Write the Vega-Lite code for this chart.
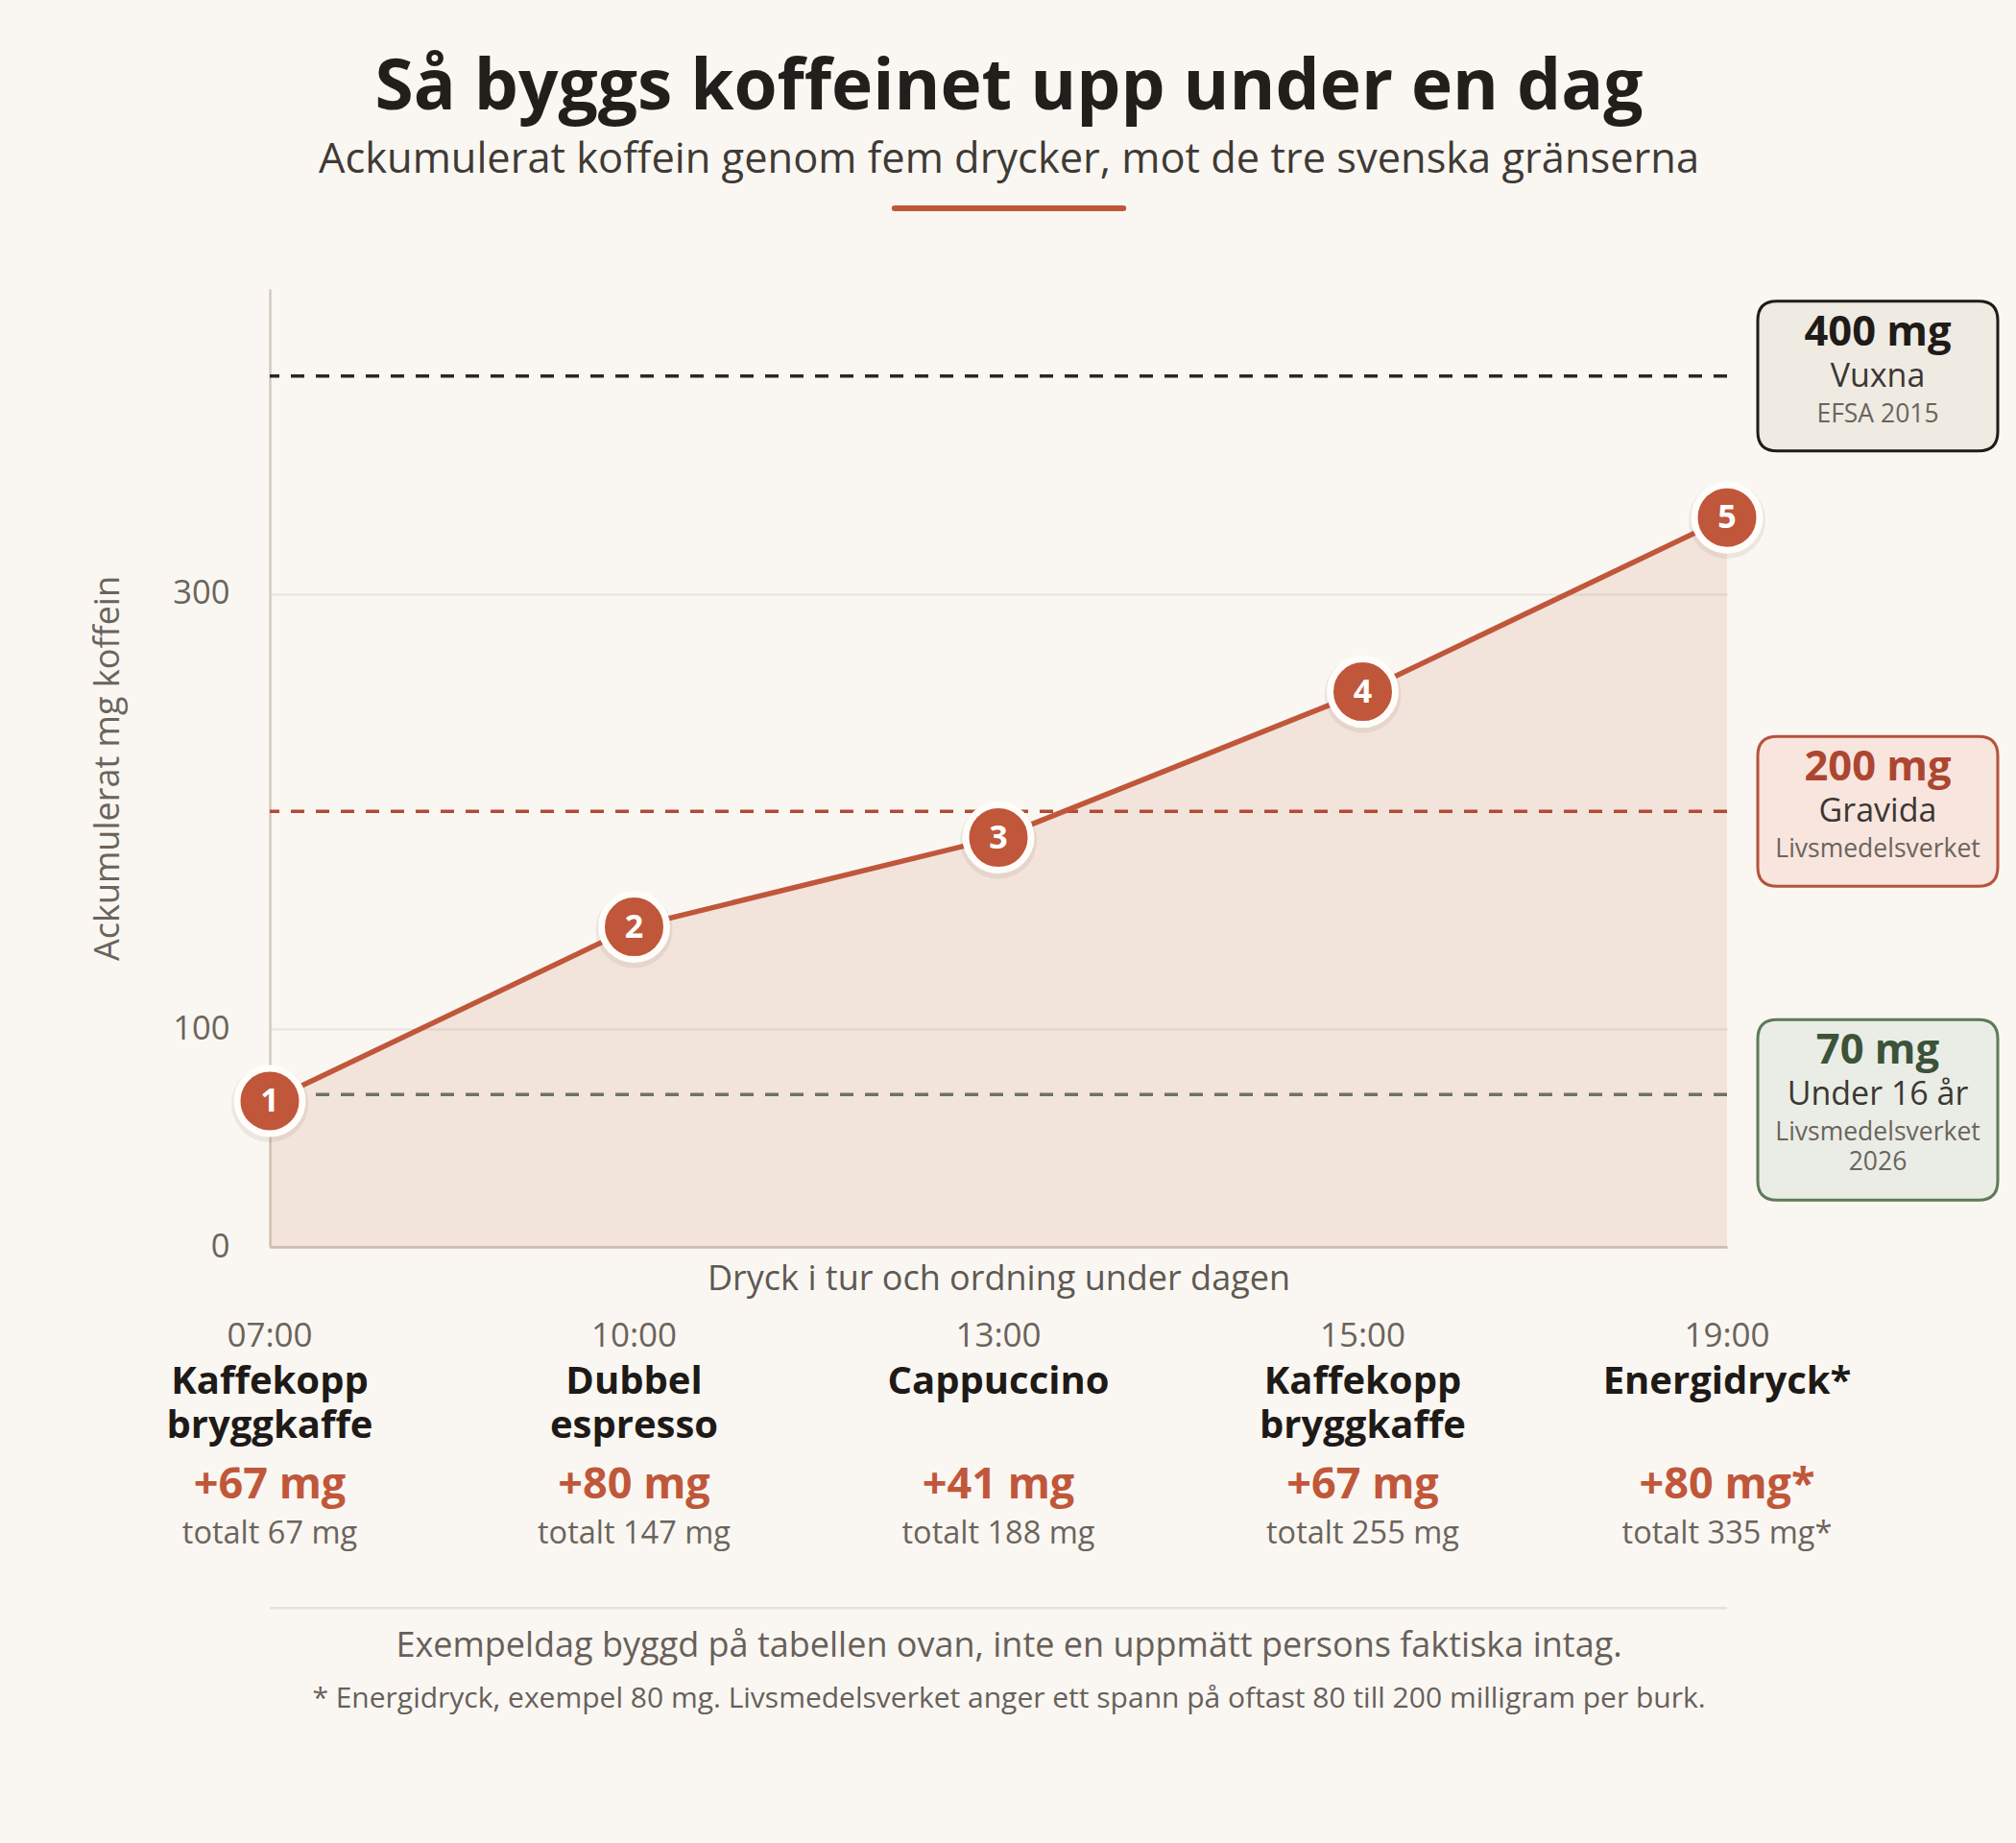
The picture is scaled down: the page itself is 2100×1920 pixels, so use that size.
{
  "$schema": "https://vega.github.io/schema/vega-lite/v6.json",
  "background": "#faf7f2",
  "padding": {"left": 94, "top": 55, "right": 20, "bottom": 170},
  "config": {"font": "Open Sans", "view": {"stroke": null}},
  "title": {
    "text": "Så byggs koffeinet upp under en dag",
    "subtitle": "Ackumulerat koffein genom fem drycker, mot de tre svenska gränserna",
    "anchor": "middle",
    "frame": "group",
    "dx": 11,
    "fontSize": 73,
    "fontWeight": "bold",
    "color": "#221e1b",
    "subtitleFontSize": 43.4,
    "subtitleColor": "#3f3a35",
    "subtitlePadding": 17,
    "offset": 26
  },
  "datasets": {
    "drycker": [
      {"nr": 1, "tid": "07:00", "namn": "Kaffekopp\nbryggkaffe", "tillskott": "+67 mg", "total": "totalt 67 mg", "mg": 67, "ackumulerat": 67},
      {"nr": 2, "tid": "10:00", "namn": "Dubbel\nespresso", "tillskott": "+80 mg", "total": "totalt 147 mg", "mg": 80, "ackumulerat": 147},
      {"nr": 3, "tid": "13:00", "namn": "Cappuccino", "tillskott": "+41 mg", "total": "totalt 188 mg", "mg": 41, "ackumulerat": 188},
      {"nr": 4, "tid": "15:00", "namn": "Kaffekopp\nbryggkaffe", "tillskott": "+67 mg", "total": "totalt 255 mg", "mg": 67, "ackumulerat": 255},
      {"nr": 5, "tid": "19:00", "namn": "Energidryck*", "tillskott": "+80 mg*", "total": "totalt 335 mg*", "mg": 80, "ackumulerat": 335}
    ],
    "granser": [
      {"mg": 400, "etikett": "400 mg", "grupp": "Vuxna", "kalla": "EFSA 2015", "kalla2": ""},
      {"mg": 200, "etikett": "200 mg", "grupp": "Gravida", "kalla": "Livsmedelsverket", "kalla2": ""},
      {"mg": 70, "etikett": "70 mg", "grupp": "Under 16 år", "kalla": "Livsmedelsverket", "kalla2": "2026"}
    ],
    "fotnot": [
      {"rad": "fot1", "text": "Exempeldag byggd på tabellen ovan, inte en uppmätt persons faktiska intag."},
      {"rad": "fot2", "text": "* Energidryck, exempel 80 mg. Livsmedelsverket anger ett spann på oftast 80 till 200 milligram per burk."}
    ]
  },
  "bounds": "flush",
  "spacing": 93,
  "vconcat": [
    {
      "width": 1518,
      "height": 998,
      "resolve": {"scale": {"color": "independent", "fill": "independent", "stroke": "independent", "shape": "independent"}},
      "layer": [
        {
          "data": {"name": "drycker"},
          "mark": {"type": "area", "color": "#c0573a", "opacity": 0.12},
          "encoding": {
            "x": {"field": "nr", "type": "quantitative", "scale": {"domain": [1, 5], "nice": false, "zero": false},
              "axis": {"title": "Dryck i tur och ordning under dagen", "labels": false, "ticks": false, "grid": false, "domain": true, "domainColor": "#cdbdb2", "domainWidth": 2.5, "titleFontSize": 36, "titleFontWeight": "normal", "titleColor": "#5f5952", "titlePadding": 16}},
            "y": {"field": "ackumulerat", "type": "quantitative", "scale": {"domain": [0, 440], "nice": false},
              "axis": {"title": "Ackumulerat mg koffein", "values": [0, 100, 300], "grid": true, "gridColor": "#e8e3dc", "gridWidth": 2, "ticks": false, "domainColor": "#d3cabf", "domainWidth": 2.5, "labelFontSize": 34.5, "labelColor": "#6b645c", "labelPadding": 42, "titleFontSize": 36, "titleFontWeight": "normal", "titleColor": "#6b645c", "titlePadding": 48}}
          }
        },
        {
          "data": {"name": "granser"},
          "mark": {"type": "rule", "strokeDash": [14, 12], "strokeWidth": 3.5},
          "encoding": {
            "y": {"field": "mg", "type": "quantitative"},
            "stroke": {"field": "grupp", "type": "nominal", "scale": {"domain": ["Vuxna", "Gravida", "Under 16 år"], "range": ["#2b2724", "#b14b36", "#6c7363"]}, "legend": null}
          }
        },
        {
          "data": {"values": [{}]},
          "mark": {"type": "rule", "color": "#c0573a", "strokeWidth": 6, "strokeCap": "round"},
          "encoding": {"x": {"datum": 2.715}, "x2": {"datum": 3.343}, "y": {"datum": 477}}
        },
        {
          "data": {"name": "drycker"},
          "mark": {"type": "line", "color": "#c0573a", "strokeWidth": 5.5},
          "encoding": {"x": {"field": "nr", "type": "quantitative"}, "y": {"field": "ackumulerat", "type": "quantitative"}}
        },
        {
          "data": {"name": "drycker"},
          "mark": {"type": "point", "filled": true, "shape": "circle", "size": 6400, "color": "#7a5a4a", "opacity": 0.1, "yOffset": 3},
          "encoding": {"x": {"field": "nr", "type": "quantitative"}, "y": {"field": "ackumulerat", "type": "quantitative"}}
        },
        {
          "data": {"name": "drycker"},
          "mark": {"type": "point", "filled": true, "shape": "circle", "size": 4624, "fill": "#c0573a", "stroke": "#fffdf9", "strokeWidth": 7, "opacity": 1},
          "encoding": {"x": {"field": "nr", "type": "quantitative"}, "y": {"field": "ackumulerat", "type": "quantitative"}}
        },
        {
          "data": {"name": "drycker"},
          "mark": {"type": "text", "fontSize": 34, "fontWeight": "bold", "color": "#ffffff", "baseline": "middle", "align": "center", "dy": 1},
          "encoding": {"x": {"field": "nr", "type": "quantitative"}, "y": {"field": "ackumulerat", "type": "quantitative"}, "text": {"field": "nr"}}
        },
        {
          "data": {"name": "granser"},
          "mark": {"type": "point", "filled": true, "size": 62500, "strokeWidth": 3, "xOffset": 157, "opacity": 1},
          "encoding": {
            "x": {"value": "width"},
            "y": {"field": "mg", "type": "quantitative"},
            "shape": {"field": "grupp", "type": "nominal", "scale": {"domain": ["Vuxna", "Gravida", "Under 16 år"], "range": [
              "M-0.84,-0.624L0.84,-0.624Q1,-0.624 1,-0.464L1,0.464Q1,0.624 0.84,0.624L-0.84,0.624Q-1,0.624 -1,0.464L-1,-0.464Q-1,-0.624 -0.84,-0.624Z",
              "M-0.84,-0.624L0.84,-0.624Q1,-0.624 1,-0.464L1,0.464Q1,0.624 0.84,0.624L-0.84,0.624Q-1,0.624 -1,0.464L-1,-0.464Q-1,-0.624 -0.84,-0.624Z",
              "M-0.84,-0.624L0.84,-0.624Q1,-0.624 1,-0.464L1,0.72Q1,0.88 0.84,0.88L-0.84,0.88Q-1,0.88 -1,0.72L-1,-0.464Q-1,-0.624 -0.84,-0.624Z"]}, "legend": null},
            "fill": {"field": "grupp", "type": "nominal", "scale": {"domain": ["Vuxna", "Gravida", "Under 16 år"], "range": ["#efebe3", "#f8e5de", "#eaede6"]}, "legend": null},
            "stroke": {"field": "grupp", "type": "nominal", "scale": {"domain": ["Vuxna", "Gravida", "Under 16 år"], "range": ["#1f1b18", "#b5533b", "#5e7a58"]}, "legend": null}
          }
        },
        {
          "data": {"name": "granser"},
          "mark": {"type": "text", "fontSize": 43.5, "fontWeight": "bold", "baseline": "middle", "align": "center", "dx": 157, "dy": -45},
          "encoding": {
            "x": {"value": "width"},
            "y": {"field": "mg", "type": "quantitative"},
            "text": {"field": "etikett"},
            "color": {"field": "grupp", "type": "nominal", "scale": {"domain": ["Vuxna", "Gravida", "Under 16 år"], "range": ["#1f1b18", "#ad4631", "#3c5239"]}, "legend": null}
          }
        },
        {
          "data": {"name": "granser"},
          "mark": {"type": "text", "fontSize": 34, "baseline": "middle", "align": "center", "dx": 157, "dy": 1, "color": "#3b3733"},
          "encoding": {"x": {"value": "width"}, "y": {"field": "mg", "type": "quantitative"}, "text": {"field": "grupp"}}
        },
        {
          "data": {"name": "granser"},
          "mark": {"type": "text", "fontSize": 26.5, "baseline": "middle", "align": "center", "dx": 157, "dy": 40, "color": "#6b645c"},
          "encoding": {"x": {"value": "width"}, "y": {"field": "mg", "type": "quantitative"}, "text": {"field": "kalla"}}
        },
        {
          "data": {"name": "granser"},
          "mark": {"type": "text", "fontSize": 26.5, "baseline": "middle", "align": "center", "dx": 157, "dy": 71, "color": "#6b645c"},
          "encoding": {"x": {"value": "width"}, "y": {"field": "mg", "type": "quantitative"}, "text": {"field": "kalla2"}}
        }
      ]
    },
    {
      "width": 1518,
      "height": 377,
      "layer": [
        {
          "data": {"name": "drycker"},
          "mark": {"type": "text", "fontSize": 35, "color": "#6b645c", "baseline": "middle", "align": "center"},
          "encoding": {
            "x": {"field": "nr", "type": "quantitative", "scale": {"domain": [1, 5], "nice": false, "zero": false}, "axis": null},
            "y": {"datum": "tid", "type": "nominal", "scale": {"type": "point", "domain": ["tid", "namn", "plus", "total", "linje", "fot1", "fot2"], "padding": 0}, "axis": null},
            "text": {"field": "tid"}
          }
        },
        {
          "data": {"name": "drycker"},
          "mark": {"type": "text", "fontSize": 40, "fontWeight": "bold", "color": "#1e1a17", "baseline": "alphabetic", "align": "center", "lineBreak": "\n", "lineHeight": 46, "dy": -3},
          "encoding": {"x": {"field": "nr", "type": "quantitative"}, "y": {"datum": "namn", "type": "nominal"}, "text": {"field": "namn"}}
        },
        {
          "data": {"name": "drycker"},
          "mark": {"type": "text", "fontSize": 45, "fontWeight": "bold", "color": "#c0573a", "baseline": "middle", "align": "center", "dy": 29},
          "encoding": {"x": {"field": "nr", "type": "quantitative"}, "y": {"datum": "plus", "type": "nominal"}, "text": {"field": "tillskott"}}
        },
        {
          "data": {"name": "drycker"},
          "mark": {"type": "text", "fontSize": 32.5, "color": "#6b645c", "baseline": "middle", "align": "center", "dy": 17},
          "encoding": {"x": {"field": "nr", "type": "quantitative"}, "y": {"datum": "total", "type": "nominal"}, "text": {"field": "total"}}
        },
        {
          "data": {"values": [{}]},
          "mark": {"type": "rule", "color": "#e6e1d9", "strokeWidth": 2.5, "yOffset": 32},
          "encoding": {"x": {"datum": 1}, "x2": {"datum": 5}, "y": {"datum": "linje", "type": "nominal"}}
        },
        {
          "data": {"name": "fotnot"},
          "transform": [{"filter": "datum.rad === 'fot1'"}],
          "mark": {"type": "text", "fontSize": 36, "color": "#67605a", "baseline": "middle", "align": "center", "dx": 11, "dy": 9},
          "encoding": {"x": {"datum": 3}, "y": {"field": "rad", "type": "nominal"}, "text": {"field": "text"}}
        },
        {
          "data": {"name": "fotnot"},
          "transform": [{"filter": "datum.rad === 'fot2'"}],
          "mark": {"type": "text", "fontSize": 30, "color": "#67605a", "baseline": "middle", "align": "center", "dx": 11, "dy": 1},
          "encoding": {"x": {"datum": 3}, "y": {"field": "rad", "type": "nominal"}, "text": {"field": "text"}}
        }
      ]
    }
  ]
}
